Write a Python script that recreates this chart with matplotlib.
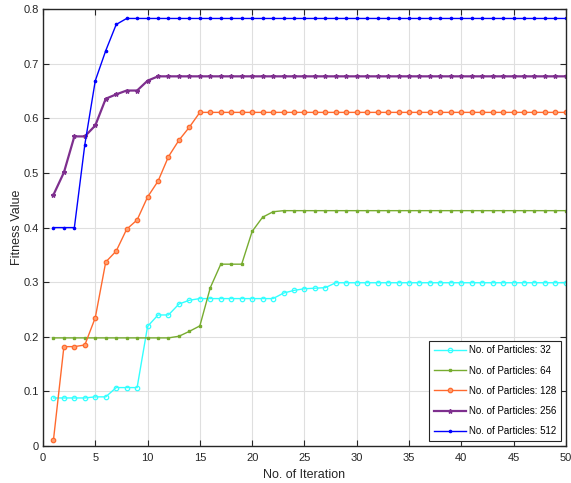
import matplotlib
matplotlib.use("Agg")
import matplotlib.pyplot as plt

iterations = list(range(1, 51))

p32 = [0.088, 0.088, 0.088, 0.088, 0.090, 0.090, 0.107, 0.107, 0.107, 0.219,
       0.240, 0.240, 0.260, 0.267, 0.270, 0.270, 0.270, 0.270, 0.270, 0.270,
       0.270, 0.270, 0.280, 0.285, 0.288, 0.289, 0.290] + [0.299] * 23
p64 = [0.198] * 12 + [0.201, 0.210, 0.220, 0.290, 0.333, 0.333, 0.333, 0.393,
       0.419, 0.429] + [0.431] * 28
p128 = [0.011, 0.182, 0.182, 0.185, 0.235, 0.337, 0.357, 0.397, 0.414, 0.456,
        0.485, 0.530, 0.560, 0.584] + [0.611] * 36
p256 = [0.460, 0.501, 0.567, 0.567, 0.587, 0.636, 0.644, 0.651, 0.651, 0.669] + [0.677] * 40
p512 = [0.400, 0.400, 0.400, 0.552, 0.669, 0.724, 0.772] + [0.783] * 43

labels = ["No. of Particles: 32", "No. of Particles: 64", "No. of Particles: 128",
          "No. of Particles: 256", "No. of Particles: 512"]
colors = ["#33FFFF", "#77AC30", "#FF6A2E", "#7E2F8E", "#0000FF"]
markers = ["o", "s", "o", "*", "."]

plt.rcParams['font.family'] = ['Liberation Sans', 'DejaVu Sans']
fig = plt.figure(figsize=(5.71, 4.83), dpi=100)
ax = fig.add_axes([0.0753, 0.0766, 0.9157, 0.9044])

series = [p32, p64, p128, p256, p512]
styles = [dict(ms=3.2, mfc='none', mew=0.9, lw=1.0),
          dict(ms=1.8, lw=1.0),
          dict(ms=3.2, mfc='#FFA070', mew=0.9, lw=1.0),
          dict(ms=3.2, lw=1.6),
          dict(ms=3.2, lw=1.0)]
for y, lab, c, m, st in zip(series, labels, colors, markers, styles):
    ax.plot(iterations, y, color=c, marker=m, label=lab, **st)

ax.set_xlim(0, 50)
ax.set_ylim(0, 0.8)
ax.set_xticks(range(0, 51, 5))
ax.set_yticks([0, 0.1, 0.2, 0.3, 0.4, 0.5, 0.6, 0.7, 0.8])
ax.set_yticklabels(["0", "0.1", "0.2", "0.3", "0.4", "0.5", "0.6", "0.7", "0.8"])
ax.grid(True, color="#DFDFDF", lw=0.8)
ax.set_axisbelow(True)
ax.tick_params(direction='in', top=True, right=True, labelsize=8, length=4,
               colors='#262626', pad=3)
ax.tick_params(axis='x', pad=5)
for s in ax.spines.values():
    s.set_color('#262626')
    s.set_linewidth(1.0)
ax.set_xlabel("No. of Iteration", fontsize=9, color='#262626', labelpad=4)
ax.set_ylabel("Fitness Value", fontsize=9, color='#262626', labelpad=0)

leg = ax.legend(loc='lower right', fontsize=7, frameon=True, fancybox=False,
                edgecolor='#262626', framealpha=1, handlelength=3.3,
                borderaxespad=0.5, labelspacing=1.05, handletextpad=0.3,
                borderpad=0.5)
leg.get_frame().set_linewidth(0.8)

fig.savefig("out.png", dpi=100)
